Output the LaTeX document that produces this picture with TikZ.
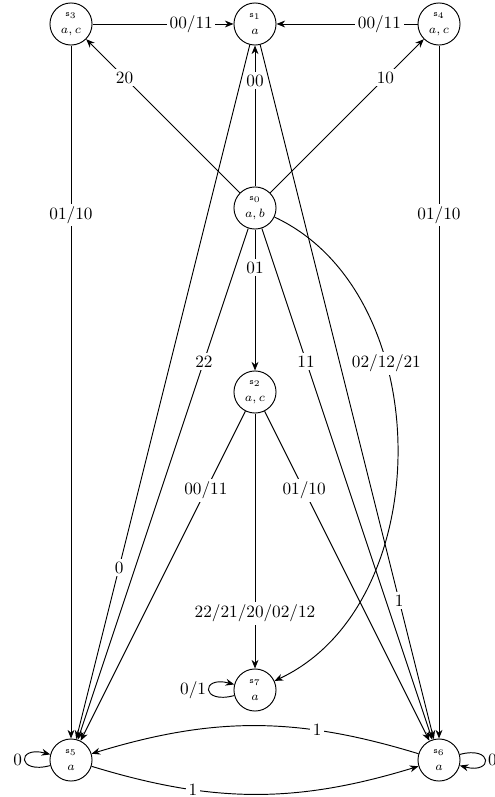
\documentclass[tikz,border=0pt]{standalone}
\usetikzlibrary{arrows.meta}
\begin{document}
\begin{tikzpicture}[x=0.58pt,y=0.58pt,line width=0.55pt,
  state/.style={circle,draw,minimum size=24.4pt,inner sep=0pt,align=center},
  lbl/.style={fill=white,inner sep=1.5pt},
  >={Stealth[length=5pt,width=4pt]}]
\useasboundingbox (0,0) rectangle (494,-797);
\node[state] (s3) at (71,-24) {{\tiny$\mathtt{s}_3$}\\[-2pt]{\scriptsize$a,c$}};
\node[state] (s1) at (255,-24) {{\tiny$\mathtt{s}_1$}\\[-2pt]{\scriptsize$a$}};
\node[state] (s4) at (439,-24) {{\tiny$\mathtt{s}_4$}\\[-2pt]{\scriptsize$a,c$}};
\node[state] (s0) at (255,-208) {{\tiny$\mathtt{s}_0$}\\[-2pt]{\scriptsize$a,b$}};
\node[state] (s2) at (255,-392) {{\tiny$\mathtt{s}_2$}\\[-2pt]{\scriptsize$a,c$}};
\node[state] (s7) at (255,-690) {{\tiny$\mathtt{s}_7$}\\[-2pt]{\scriptsize$a$}};
\node[state] (s5) at (71,-760) {{\tiny$\mathtt{s}_5$}\\[-2pt]{\scriptsize$a$}};
\node[state] (s6) at (439,-760) {{\tiny$\mathtt{s}_6$}\\[-2pt]{\scriptsize$a$}};

\draw[->] (s3) -- node[lbl,pos=.7]{00/11} (s1);
\draw[->] (s4) -- node[lbl,pos=.27]{00/11} (s1);
\draw[->] (s0) -- node[lbl,pos=.75]{20} (s3);
\draw[->] (s0) -- node[lbl,pos=.75]{00} (s1);
\draw[->] (s0) -- node[lbl,pos=.75]{10} (s4);
\draw[->] (s3) -- node[lbl,pos=.245]{01/10} (s5);
\draw[->] (s4) -- node[lbl,pos=.245]{01/10} (s6);
\draw[->] (s0) -- node[lbl,pos=.27]{01} (s2);
\draw[->] (s0) -- node[lbl,pos=.26]{22} (s5);
\draw[->] (s0) -- node[lbl,pos=.26]{11} (s6);
\draw[->] (s0) to[out=-25,in=25] node[lbl,pos=.35]{02/12/21} (s7);
\draw[->] (s2) -- node[lbl,pos=.24]{00/11} (s5);
\draw[->] (s2) -- node[lbl,pos=.24]{01/10} (s6);
\draw[->] (s2) -- node[lbl,pos=.785]{22/21/20/02/12} (s7);
\draw[->] (s1) -- node[lbl,pos=.753]{0} (s5);
\draw[->] (s1) -- node[lbl,pos=.8]{1} (s6);
\draw[->] (s5) to[bend right=17] node[lbl,pos=.3]{1} (s6);
\draw[->] (s6) to[bend right=17] node[lbl,pos=.3]{1} (s5);
\draw[->] (s5) to[loop left] node[left,inner sep=1.5pt]{0} (s5);
\draw[->] (s6) to[loop right] node[right,inner sep=1.5pt]{0} (s6);
\draw[->] (s7) to[loop left] node[left,inner sep=1.5pt]{0/1} (s7);
\end{tikzpicture}
\end{document}
